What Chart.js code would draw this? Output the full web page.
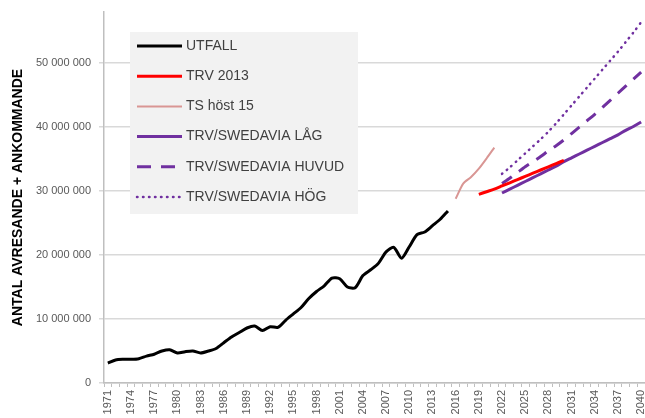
<!DOCTYPE html>
<html lang="sv">
<head>
  <meta charset="UTF-8">
  <title>Antal avresande + ankommande</title>
  <script src="https://cdn.jsdelivr.net/npm/chart.js"></script>
  <style>
    html, body { margin: 0; padding: 0; background: #fff; }
    #wrap { width: 645px; height: 418px; }
  </style>
</head>
<body>
  <div id="wrap"><canvas id="chart" width="645" height="418"></canvas></div>

  <script>
    // kategorier: ett år per steg, etikett var tredje år
    const years = Array.from({ length: 70 }, (_, i) => String(1971 + i));
    const yTicks = [0, 10000000, 20000000, 30000000, 40000000, 50000000];

    // miljoner resenärer
    const utfall = [   // 1971-2015
      3.1, 3.6, 3.7, 3.7, 3.8, 4.2, 4.5, 5.0, 5.2, 4.7,
      4.9, 5.0, 4.7, 5.0, 5.4, 6.3, 7.2, 7.9, 8.6, 8.9,
      8.2, 8.8, 8.7, 9.8, 10.8, 11.8, 13.2, 14.3, 15.2, 16.4,
      16.3, 15.0, 14.9, 16.8, 17.7, 18.7, 20.5, 21.2, 19.5, 21.3,
      23.2, 23.6, 24.6, 25.6, 26.9
    ];
    const tsHost15 = [28.8, 31.2, 32.2, 33.5, 35.1, 36.8];   // 2016-2021
    const trv2013 = [29.5, 29.9, 30.3, 30.8, 31.3, 31.8, 32.3, 32.8, 33.3, 33.8, 34.3, 34.8];   // 2019-2030
    const swedaviaLag = [   // 2022-2040
      29.7, 30.3, 30.9, 31.5, 32.1, 32.7, 33.3, 33.9, 34.6, 35.2,
      35.8, 36.4, 37.0, 37.6, 38.2, 38.8, 39.5, 40.1, 40.8
    ];
    const swedaviaHuvud = [
      31.2, 32.0, 32.9, 33.8, 34.6, 35.4, 36.3, 37.1, 38.0, 39.0,
      40.0, 41.0, 42.0, 43.1, 44.2, 45.3, 46.4, 47.5, 48.6
    ];
    const swedaviaHog = [
      32.7, 33.7, 34.8, 35.9, 37.0, 38.1, 39.3, 40.6, 42.0, 43.4,
      44.8, 46.2, 47.6, 49.0, 50.4, 51.8, 53.3, 54.8, 56.4
    ];

    // lägger en serie på rätt år, null utanför
    function place(startYear, values) {
      const out = years.map(() => null);
      const i0 = years.indexOf(String(startYear));
      values.forEach((v, i) => { out[i0 + i] = v * 1000000; });
      return out;
    }

    function fmt(v) {
      return String(v).replace(/\B(?=(\d{3})+(?!\d))/g, ' ');
    }

    const FONT = '"Liberation Sans", Arial, sans-serif';
    const PURPLE = '#7030a0';

    // legend i grå ruta inne i diagrammet
    const boxLegend = {
      id: 'boxLegend',
      beforeDatasetsDraw(chart) {
        const ctx = chart.ctx;
        ctx.save();
        ctx.fillStyle = '#f2f2f2';
        ctx.fillRect(130, 32, 228, 182);
        chart.data.datasets.forEach((ds, i) => {
          const y = 46 + i * 30.2;
          ctx.beginPath();
          ctx.strokeStyle = ds.borderColor;
          ctx.lineWidth = ds.borderWidth;
          ctx.setLineDash(ds.legendDash || ds.borderDash || []);
          ctx.lineCap = ds.borderCapStyle || 'butt';
          ctx.moveTo(137, y);
          ctx.lineTo(182, y);
          ctx.stroke();
          ctx.setLineDash([]);
          ctx.fillStyle = '#404040';
          ctx.font = '14px ' + FONT;
          ctx.textBaseline = 'middle';
          ctx.fillText(ds.label, 186, y);
        });
        ctx.restore();
      }
    };

    const ctx = document.getElementById('chart').getContext('2d');
    const chart = new Chart(ctx, {
      type: 'line',
      data: {
        labels: years,
        datasets: [
          { label: 'UTFALL', data: place(1971, utfall), borderColor: '#000', borderWidth: 3 },
          { label: 'TRV 2013', data: place(2019, trv2013), borderColor: '#ff0000', borderWidth: 3 },
          { label: 'TS höst 15', data: place(2016, tsHost15), borderColor: '#d99694', borderWidth: 2 },
          { label: 'TRV/SWEDAVIA LÅG', data: place(2022, swedaviaLag), borderColor: PURPLE, borderWidth: 3 },
          { label: 'TRV/SWEDAVIA HUVUD', data: place(2022, swedaviaHuvud), borderColor: PURPLE, borderWidth: 3,
            borderDash: [12, 9], legendDash: [14, 10] },
          { label: 'TRV/SWEDAVIA HÖG', data: place(2022, swedaviaHog), borderColor: PURPLE, borderWidth: 2.5,
            borderDash: [0.5, 5.5], borderCapStyle: 'round' }
        ]
      },
      options: {
        responsive: false,
        animation: false,
        layout: { padding: { top: 12, left: 0, right: 0, bottom: 0 } },
        elements: {
          point: { radius: 0 },
          line: { tension: 0.25 }
        },
        scales: {
          x: {
            offset: true,
            afterFit(scale) {
              scale.height = 35;
              scale.paddingLeft = 0;
              scale.paddingRight = 0;
            },
            ticks: {
              autoSkip: false,
              minRotation: 90,
              maxRotation: 90,
              padding: 3,
              color: '#595959',
              font: { family: FONT, size: 11 },
              callback(v, i) { return i % 3 === 0 ? this.getLabelForValue(v) : ''; }
            },
            grid: { drawOnChartArea: false, offset: true, tickLength: 4, color: '#bfbfbf' },
            border: { color: '#bfbfbf', width: 1.5 }
          },
          y: {
            min: 0,
            max: 58000000,
            afterBuildTicks(scale) { scale.ticks = yTicks.map(v => ({ value: v })); },
            afterFit(scale) {
              scale.width = 104;
              scale.paddingTop = 0;
              scale.paddingBottom = 0;
            },
            ticks: {
              color: '#595959',
              padding: 8,
              font: { family: FONT, size: 11 },
              callback: v => fmt(v)
            },
            grid: { color: '#d9d9d9', lineWidth: 1.5, tickLength: 5 },
            border: { color: '#bfbfbf', width: 1.5 },
            title: {
              display: true,
              text: 'ANTAL AVRESANDE + ANKOMMANDE',
              color: '#000',
              font: { family: FONT, size: 14, weight: 'bold' },
              padding: { top: 10, bottom: 0 }
            }
          }
        },
        plugins: {
          legend: { display: false },
          tooltip: { enabled: false }
        }
      },
      plugins: [boxLegend]
    });
  </script>
</body>
</html>
